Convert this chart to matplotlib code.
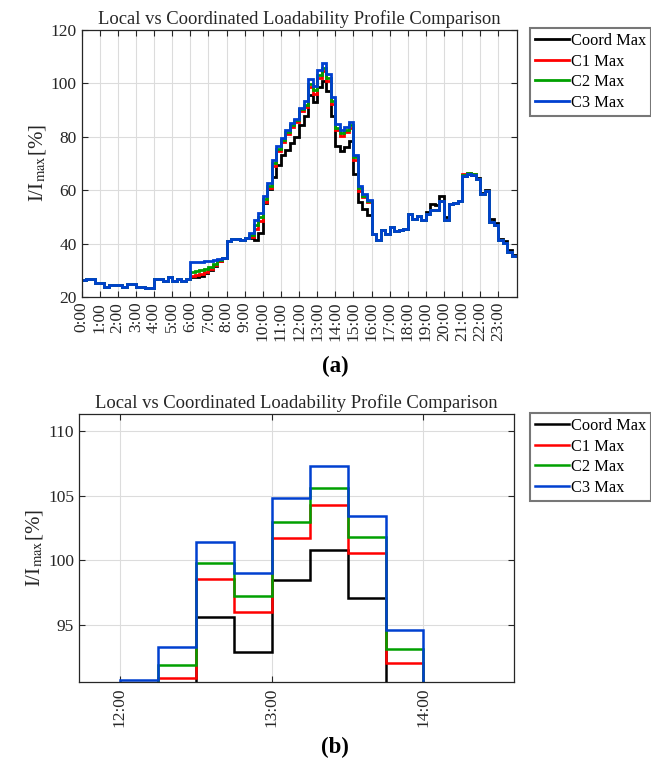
import numpy as np
import matplotlib
matplotlib.use("Agg")
import matplotlib.pyplot as plt

plt.rcParams['font.family'] = ['Liberation Serif', 'DejaVu Serif']
plt.rcParams['mathtext.fontset'] = 'stix'

# ---- data (15-minute steps, 96 intervals) ----
hour_labels = [f"{h}:00" for h in range(24)]

c3_max = [26.25, 26.6, 26.6, 25.4, 25.2, 23.75, 24.6, 24.6, 24.6, 23.75, 25.0, 25.0,
          23.75, 23.75, 23.4, 23.4, 26.6, 26.6, 25.9, 27.5, 25.9, 26.6, 25.9, 26.6,
          32.9, 32.9, 33.0, 33.3, 33.5, 33.9, 34.3, 34.7, 41.0, 41.7, 41.7, 41.2,
          42.0, 43.8, 48.8, 51.5, 57.8, 62.5, 71.2, 76.4, 79.6, 82.4, 85.1, 86.7,
          90.8, 93.3, 101.4, 99.0, 104.8, 107.3, 103.4, 94.6, 84.5, 82.5, 83.7, 85.3,
          72.9, 61.4, 58.6, 56.1, 43.5, 41.2, 45.2, 43.5, 46.2, 44.7, 45.2, 45.6,
          51.1, 49.0, 50.1, 48.9, 51.1, 52.7, 52.6, 56.0, 48.6, 54.8, 55.1, 55.8,
          65.3, 65.9, 65.6, 64.1, 58.5, 59.5, 48.0, 46.8, 41.2, 40.2, 36.9, 35.3]

c2_max = [26.25, 26.6, 26.6, 25.4, 25.2, 23.75, 24.6, 24.6, 24.6, 23.75, 25.0, 25.0,
          23.75, 23.75, 23.4, 23.4, 26.6, 26.6, 25.9, 27.5, 25.9, 26.6, 25.9, 26.6,
          29.3, 29.6, 30.0, 30.6, 31.4, 32.5, 33.8, 34.6, 41.0, 41.7, 41.7, 41.2,
          42.0, 43.2, 47.0, 50.0, 56.5, 61.5, 70.0, 75.3, 78.6, 81.5, 84.2, 86.0,
          90.2, 91.9, 99.8, 97.25, 103.0, 105.6, 101.8, 93.2, 83.3, 81.2, 82.4, 84.2,
          72.2, 60.6, 57.9, 55.8, 43.5, 41.2, 45.2, 43.5, 46.2, 44.7, 45.2, 45.6,
          51.1, 49.0, 50.1, 48.9, 51.1, 52.7, 52.6, 56.0, 48.6, 54.8, 55.1, 55.8,
          65.6, 66.2, 65.9, 64.1, 58.5, 59.5, 48.0, 46.8, 41.2, 40.2, 36.9, 35.3]

c1_max = [26.25, 26.6, 26.6, 25.4, 25.2, 23.75, 24.6, 24.6, 24.6, 23.75, 25.0, 25.0,
          23.75, 23.75, 23.4, 23.4, 26.6, 26.6, 25.9, 27.5, 25.9, 26.6, 25.9, 26.6,
          27.8, 28.2, 28.5, 29.3, 30.3, 31.8, 33.6, 34.6, 41.0, 41.7, 41.7, 41.2,
          42.0, 42.6, 45.5, 48.5, 55.5, 60.8, 69.0, 74.5, 78.0, 81.0, 83.6, 85.5,
          89.6, 90.9, 98.6, 96.0, 101.75, 104.3, 100.6, 92.1, 82.5, 80.3, 81.6, 83.3,
          71.3, 59.8, 57.2, 55.5, 43.5, 41.2, 45.2, 43.5, 46.2, 44.7, 45.2, 45.6,
          51.1, 49.0, 50.1, 48.9, 51.1, 52.7, 52.6, 56.0, 48.6, 54.8, 55.1, 55.8,
          65.8, 66.4, 66.1, 64.1, 58.5, 59.5, 48.0, 46.8, 41.2, 40.2, 36.9, 35.3]

coord_max = [26.25, 26.6, 26.6, 25.4, 25.2, 23.75, 24.6, 24.6, 24.6, 23.75, 25.0, 25.0,
             23.75, 23.75, 23.4, 23.4, 26.6, 26.6, 25.9, 27.5, 25.9, 26.6, 25.9, 26.6,
             27.3, 27.6, 28.0, 29.0, 30.0, 31.5, 33.5, 34.5, 41.0, 41.7, 41.7, 41.2,
             42.0, 42.0, 41.4, 43.8, 55.0, 60.5, 65.0, 69.5, 73.0, 75.0, 77.4, 79.9,
             84.2, 87.8, 95.65, 92.95, 98.5, 100.8, 97.1, 87.8, 76.6, 74.5, 76.0, 78.5,
             65.8, 55.5, 53.0, 50.6, 43.5, 41.2, 45.2, 43.5, 46.2, 44.7, 45.2, 45.6,
             51.1, 49.0, 50.1, 48.9, 51.8, 54.8, 54.4, 57.7, 50.0, 54.8, 55.1, 55.8,
             65.3, 65.9, 65.6, 64.3, 58.8, 60.0, 49.0, 47.6, 41.8, 40.8, 37.4, 35.6]

series_names = ["Coord Max", "C1 Max", "C2 Max", "C3 Max"]
series_colors = ["#000000", "#ff0000", "#00a000", "#0040d0"]
series_data = [coord_max, c1_max, c2_max, c3_max]

edges = np.arange(len(c3_max) + 1) * 0.25  # hours

W, H = 651, 767
fig = plt.figure(figsize=(W / 100, H / 100), dpi=100)


def fx(px):
    return px / W


def fy(py):
    return 1 - py / H


def style_axes(ax):
    ax.grid(True, color="#dcdcdc", linewidth=0.8)
    ax.set_axisbelow(True)
    ax.tick_params(direction="in", top=True, right=True, length=4, width=0.8,
                   labelsize=12.5, colors="#262626")
    for sp in ax.spines.values():
        sp.set_linewidth(0.9)
        sp.set_color("#262626")
    ax.set_title("Local vs Coordinated Loadability Profile Comparison",
                 fontsize=13.4, pad=4, color="#262626")
    ax.set_ylabel(r"I/I$_{\mathrm{max}}$[%]", fontsize=15, color="#262626", labelpad=2)


def add_legend(ax, top_px):
    leg = ax.legend(loc="upper left", bbox_to_anchor=(fx(530), fy(top_px)),
                    bbox_transform=fig.transFigure, fontsize=11.8, frameon=True,
                    fancybox=False, handlelength=2.1, handletextpad=0.08,
                    borderpad=0.3, labelspacing=0.28, borderaxespad=0)
    leg.get_frame().set_edgecolor("#555555")
    leg.get_frame().set_linewidth(1.5)
    return leg


# ---- top panel ----
ax1 = fig.add_axes([fx(81.5), fy(297), fx(516.5 - 81.5), (297 - 29.5) / H])
for name, col, vals in zip(series_names, series_colors, series_data):
    ax1.stairs(vals, edges, baseline=None, color=col, linewidth=2.0, label=name)
ax1.set_xlim(0, 24)
ax1.set_ylim(20, 120)
ax1.set_yticks(np.arange(20, 121, 20))
ax1.set_xticks(np.arange(24))
ax1.set_xticklabels(hour_labels, rotation=90)
style_axes(ax1)
add_legend(ax1, 28)
fig.text(fx(335), fy(366), "(a)", ha="center", va="center", fontsize=16.5,
         fontweight="bold")

# ---- bottom panel (zoom 12:00-14:00) ----
ax2 = fig.add_axes([fx(79), fy(682.3), fx(514 - 79), (682.3 - 414) / H])
for name, col, vals in zip(series_names, series_colors, series_data):
    ax2.stairs(vals, edges, baseline=None, color=col, linewidth=1.8, label=name)
ax2.set_xlim(11.732, 14.596)
ax2.set_ylim(90.6, 111.3)
ax2.set_yticks([95, 100, 105, 110])
ax2.set_xticks([12, 13, 14])
ax2.set_xticklabels([hour_labels[12], hour_labels[13], hour_labels[14]], rotation=90)
style_axes(ax2)
add_legend(ax2, 413)
fig.text(fx(335), fy(747), "(b)", ha="center", va="center", fontsize=16.5,
         fontweight="bold")

fig.savefig("out.png", dpi=100)
